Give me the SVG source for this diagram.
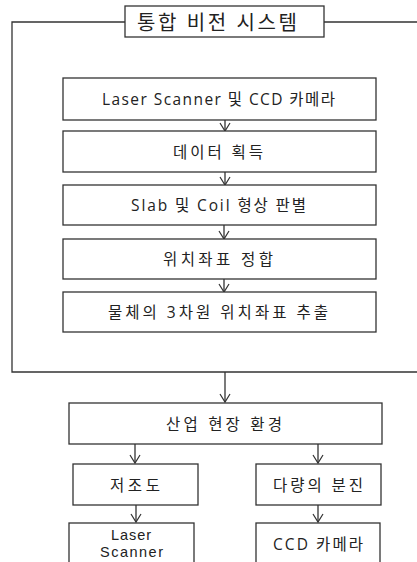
<svg xmlns="http://www.w3.org/2000/svg" width="417" height="562" viewBox="0 0 417 562">
<defs>
<marker id="ah" markerWidth="12" markerHeight="12" refX="9" refY="6" orient="auto" markerUnits="userSpaceOnUse" viewBox="0 0 12 12">
<polyline points="1,1 9,6 1,11" fill="none" stroke="#333" stroke-width="1.2"/>
</marker>
<style>
.box{fill:#fff;stroke:#333;stroke-width:1.3}
.t{font-family:"Open Sans","Noto Sans CJK KR",sans-serif;font-size:15.5px;fill:#222;text-anchor:middle;dominant-baseline:central}
.l{font-family:"Liberation Sans","Noto Sans",sans-serif;font-size:14.5px}
.ttl{font-size:20px}
.c{stroke:#333;stroke-width:1.3;fill:none;marker-end:url(#ah)}
</style>
</defs>
<rect width="417" height="562" fill="#fff"/>
<g id="frame">
<path d="M418,22 H12 V372 H418" fill="none" stroke="#333" stroke-width="1.3"/>
</g>
<g id="title">
<rect class="box" x="125" y="6" width="199" height="31"/>
<text class="t ttl" x="217" y="22" textLength="160" lengthAdjust="spacing">통합 비전 시스템</text>
</g>
<g id="connectors">
<line class="c" x1="225" y1="120" x2="225" y2="131"/>
<line class="c" x1="225" y1="172" x2="225" y2="185"/>
<line class="c" x1="224" y1="225" x2="224" y2="239"/>
<line class="c" x1="224" y1="279" x2="224" y2="292"/>
<line class="c" x1="225" y1="372" x2="225" y2="402"/>
<line class="c" x1="135" y1="444" x2="135" y2="463"/>
<line class="c" x1="318" y1="444" x2="318" y2="463"/>
<line class="c" x1="136" y1="505" x2="136" y2="522"/>
<line class="c" x1="318" y1="505" x2="318" y2="522"/>
</g>
<g id="n1"><rect class="box" x="63" y="78" width="313" height="42"/><text class="t" x="218.5" y="99" textLength="233" lengthAdjust="spacing">Laser Scanner 및 CCD 카메라</text></g>
<g id="n2"><rect class="box" x="63" y="131" width="313" height="41"/><text class="t" x="218" y="151.5" textLength="90" lengthAdjust="spacing">데이터 획득</text></g>
<g id="n3"><rect class="box" x="63" y="185" width="313" height="40"/><text class="t" x="218.5" y="205" textLength="175" lengthAdjust="spacing">Slab 및 Coil 형상 판별</text></g>
<g id="n4"><rect class="box" x="63" y="239" width="313" height="40"/><text class="t" x="218" y="259" textLength="110" lengthAdjust="spacing">위치좌표 정합</text></g>
<g id="n5"><rect class="box" x="63" y="292" width="313" height="40"/><text class="t" x="218" y="312" textLength="220" lengthAdjust="spacing">물체의 3차원 위치좌표 추출</text></g>
<g id="n6"><rect class="box" x="69" y="403" width="313" height="41"/><text class="t" x="224" y="423.5" textLength="116" lengthAdjust="spacing">산업 현장 환경</text></g>
<g id="n7"><rect class="box" x="73" y="464" width="125" height="41"/><text class="t" x="135" y="484.5" textLength="50" lengthAdjust="spacing">저조도</text></g>
<g id="n8"><rect class="box" x="256" y="464" width="125" height="41"/><text class="t" x="318" y="484.5" textLength="90" lengthAdjust="spacing">다량의 분진</text></g>
<g id="n9"><rect class="box" x="69" y="523" width="125" height="45"/><text class="t l" x="131" y="535" textLength="40" lengthAdjust="spacing">Laser</text><text class="t l" x="131.5" y="552" textLength="63" lengthAdjust="spacing">Scanner</text></g>
<g id="n10"><rect class="box" x="256" y="523" width="124" height="45"/><text class="t" x="318" y="544" textLength="90" lengthAdjust="spacing">CCD 카메라</text></g>
</svg>
